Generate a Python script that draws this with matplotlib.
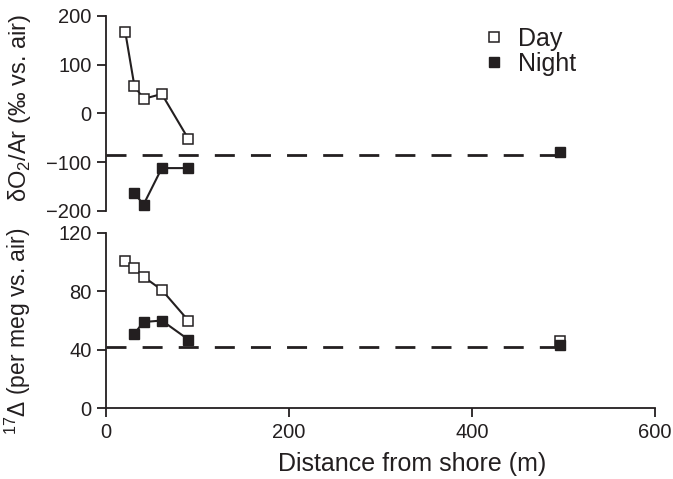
import matplotlib
matplotlib.use("Agg")
import matplotlib.pyplot as plt

plt.rcParams['font.family'] = ['Liberation Sans', 'DejaVu Sans']
plt.rcParams['mathtext.fontset'] = 'custom'
plt.rcParams['mathtext.rm'] = 'Liberation Sans'

# Data
day_x = [21, 31, 41, 61, 90]
day_o2ar = [168, 57, 30, 40, -52]
night_x = [31, 41, 61, 90]
night_o2ar = [-163, -187, -112, -112]
far_x = 496
far_night_o2ar = -80
o2ar_air = -85

day_d17 = [101, 96, 90, 81, 60]
night_d17 = [51, 59, 60, 47]
far_day_d17 = 46
far_night_d17 = 43
d17_air = 42

fig = plt.figure(figsize=(6.73, 4.79), dpi=100)
ax1 = fig.add_axes([0.1575, 0.5595, 0.8155, 0.4071])
ax2 = fig.add_axes([0.1575, 0.148, 0.8155, 0.3656])

ms = 6.5
dash = (0, (7.2, 5.8))
ink = '#231f20'

def style(ax):
    for s in ['top', 'right']:
        ax.spines[s].set_visible(False)
    ax.tick_params(direction='out', labelsize=14.5, length=6.5, width=1.3, pad=4, colors=ink)
    for s in ['left', 'bottom']:
        ax.spines[s].set_linewidth(1.3)
        ax.spines[s].set_color(ink)

# Top panel
ax1.plot([0, far_x], [o2ar_air, o2ar_air], color=ink, lw=2.0, ls=dash)
ax1.plot(day_x, day_o2ar, '-s', color=ink, lw=1.5, ms=ms, mfc='white', mec=ink, mew=1.1, label='Day')
ax1.plot(night_x, night_o2ar, '-s', color=ink, lw=1.5, ms=ms, mfc=ink, mec=ink, label='Night')
ax1.plot([far_x], [far_night_o2ar], 's', ms=ms, mfc=ink, mec=ink)
ax1.set_xlim(0, 600)
ax1.set_ylim(-200, 200)
ax1.set_yticks([-200, -100, 0, 100, 200])
ax1.set_yticklabels(['\u2212200', '\u2212100', '0', '100', '200'])
ax1.set_xticks([])
style(ax1)
ax1.spines['bottom'].set_visible(False)
ax1.set_ylabel('δO$_2$/Ar (‰ vs. air)', fontsize=17, color=ink)
ax1.yaxis.set_label_coords(-0.133, 0.53)
leg = ax1.legend(loc='upper left', bbox_to_anchor=(0.65, 1.06), frameon=False, fontsize=18,
                 handlelength=0.7, handletextpad=0.6, labelspacing=0.05, markerscale=1.1)
for h in leg.legend_handles:
    h.set_linestyle('none')
for t in leg.get_texts():
    t.set_color(ink)

# Bottom panel
ax2.plot([0, far_x], [d17_air, d17_air], color=ink, lw=2.0, ls=dash)
ax2.plot(day_x, day_d17, '-s', color=ink, lw=1.5, ms=ms, mfc='white', mec=ink, mew=1.1)
ax2.plot(night_x, night_d17, '-s', color=ink, lw=1.5, ms=ms, mfc=ink, mec=ink)
ax2.plot([far_x], [far_day_d17], 's', ms=ms, mfc='white', mec=ink, mew=1.1)
ax2.plot([far_x], [far_night_d17], 's', ms=ms, mfc=ink, mec=ink)
ax2.set_xlim(0, 600)
ax2.set_ylim(0, 120)
ax2.set_yticks([0, 40, 80, 120])
ax2.set_xticks([0, 200, 400, 600])
style(ax2)
ax2.set_ylabel('$^{17}$Δ (per meg vs. air)', fontsize=16.5, color=ink)
ax2.yaxis.set_label_coords(-0.133, 0.44)
ax2.set_xlabel('Distance from shore (m)', fontsize=18, color=ink)
ax2.xaxis.set_label_coords(0.557, -0.251)

fig.savefig('out.png', dpi=100)
